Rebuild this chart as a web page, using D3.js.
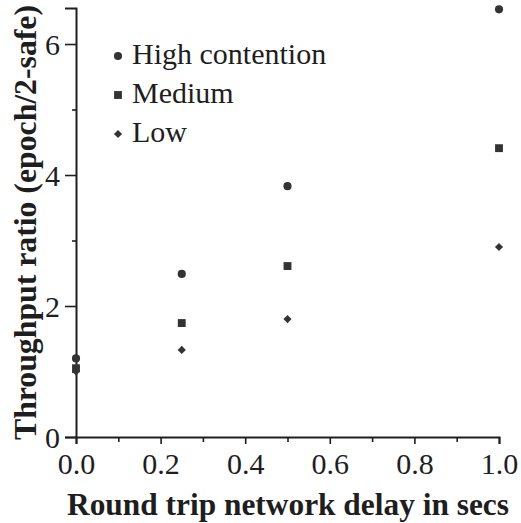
<!DOCTYPE html>
<html>
<head>
<meta charset="utf-8">
<script src="https://cdn.jsdelivr.net/npm/d3@7"></script>
<style>
  body { margin: 0; background: #fff; }
</style>
</head>
<body>
<script>
"use strict"

// data
const delays  = [0.0, 0.25, 0.5, 1.0]
const high    = [1.2, 2.49, 3.83, 6.53]
const medium  = [1.05, 1.74, 2.61, 4.41]
const low     = [1.0, 1.33, 1.80, 2.90]
const names   = ["High contention", "Medium", "Low"]
const xTicks      = [0, 0.2, 0.4, 0.6, 0.8, 1.0]
const xMinorTicks = [0.1, 0.3, 0.5, 0.7, 0.9]
const yTicks      = [0, 2, 4, 6]
const yMinorTicks = [1, 3, 5]

const series = [
  { name : names[0], values : high,   symbol : d3.symbolCircle,   size : 52 },
  { name : names[1], values : medium, symbol : d3.symbolSquare,   size : 62 },
  { name : names[2], values : low,    symbol : d3.symbolDiamond2, size : 42 },
]

// SVG area
const area  = [521, 523]
const serif = "\"Liberation Serif\""
const ink   = "#1e1e1e"

const x = d3.scaleLinear().domain([0, 1]).range([76, 499])
const y = d3.scaleLinear().domain([0, 6.55]).range([437, 8])

const svg = d3.select("body").append("svg")
  .attr("width", area[0])
  .attr("height", area[1])

// axes
const xAxis = svg.append("g").attr("transform", `translate(0 ${y(0)})`)
xAxis.call(d3.axisBottom(x).tickValues(xTicks).tickFormat(d3.format(".1f")).tickSize(7).tickPadding(9))
xAxis.append("g").call(d3.axisBottom(x).tickValues(xMinorTicks).tickFormat("").tickSize(5))
  .select(".domain").remove()

const yAxis = svg.append("g").attr("transform", `translate(${x(0)} 0)`)
yAxis.call(d3.axisLeft(y).tickValues(yTicks).tickFormat(d3.format("d")).tickSize(11).tickPadding(5))
yAxis.append("g").call(d3.axisLeft(y).tickValues(yMinorTicks).tickFormat("").tickSize(4))
  .select(".domain").remove()

svg.selectAll("g").attr("font-family", null)
svg.selectAll(".domain").attr("stroke", ink).attr("stroke-width", 2)
svg.selectAll(".tick line").attr("stroke", ink).attr("stroke-width", 1.6)
svg.selectAll(".tick text")
  .style("font-family", serif)
  .attr("font-size", 30)
  .attr("fill", ink)
xAxis.selectAll(".tick text").attr("dy", "0.71em")
yAxis.selectAll(".tick text").attr("dy", "0.34em")

// axis titles
svg.append("text")
  .attr("x", 67)
  .attr("y", 515)
  .style("font-family", serif)
  .attr("font-weight", "bold")
  .attr("font-size", 32)
  .attr("fill", ink)
  .attr("textLength", 442)
  .attr("lengthAdjust", "spacingAndGlyphs")
  .text("Round trip network delay in secs")

svg.append("text")
  .attr("transform", "translate(36 440) rotate(-90)")
  .style("font-family", serif)
  .attr("font-weight", "bold")
  .attr("font-size", 32)
  .attr("fill", ink)
  .attr("textLength", 435)
  .attr("lengthAdjust", "spacingAndGlyphs")
  .text("Throughput ratio (epoch/2-safe)")

// points
series.forEach(s => {
  svg.append("g").selectAll("path")
    .data(s.values.map((v, i) => ({ d : delays[i], v })))
    .enter()
    .append("path")
    .attr("d", d3.symbol().type(s.symbol).size(s.size))
    .attr("transform", p => `translate(${x(p.d)} ${y(p.v)})`)
    .attr("fill", "#333")
})

// legend
const legend = svg.append("g").attr("transform", "translate(118 64)")
const rows = legend.selectAll("g")
  .data(series)
  .enter()
  .append("g")
  .attr("transform", (d, i) => `translate(0 ${i * 39})`)
rows.append("path")
  .attr("d", d => d3.symbol().type(d.symbol).size(d.size)())
  .attr("transform", "translate(0 -8)")
  .attr("fill", "#333")
rows.append("text")
  .attr("x", 14)
  .style("font-family", serif)
  .attr("font-size", 30)
  .attr("fill", ink)
  .text(d => d.name)
</script>
</body>
</html>
